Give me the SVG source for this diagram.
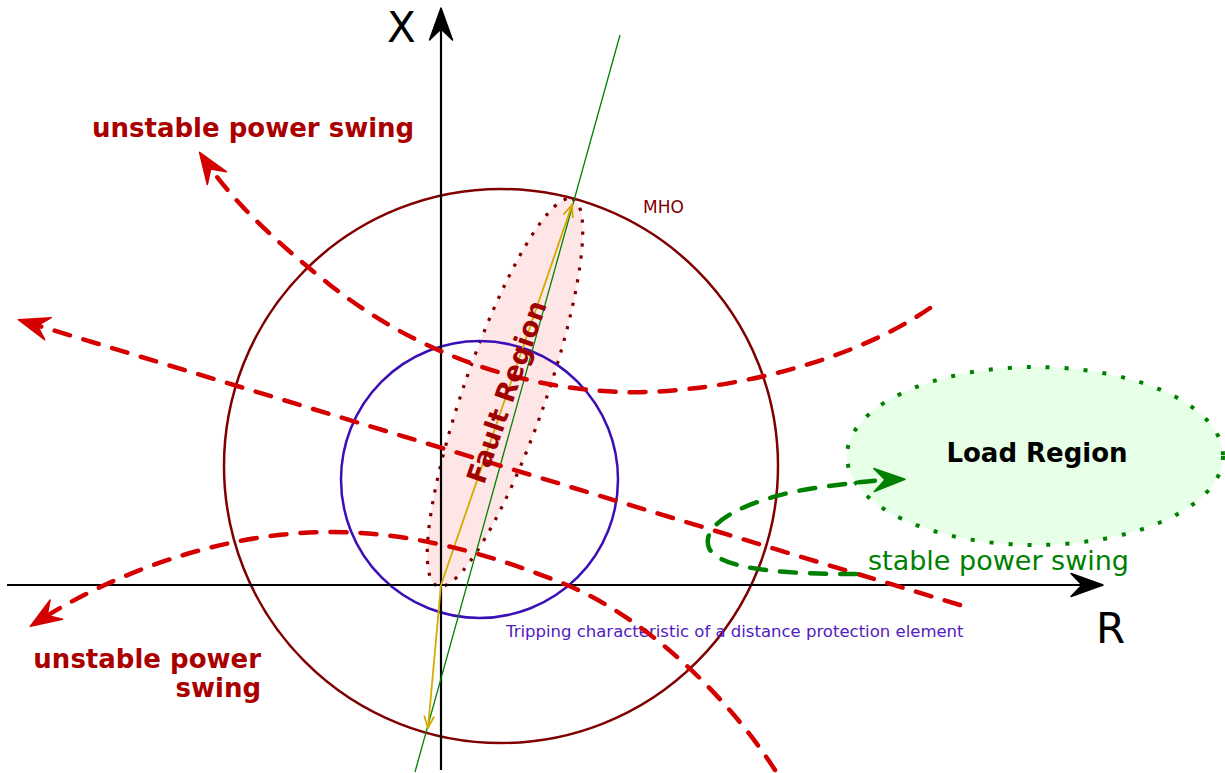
<svg xmlns="http://www.w3.org/2000/svg" width="1225" height="773" viewBox="0 0 1225 773">
<style>
text{font-family:"DejaVu Sans","Liberation Sans",sans-serif}
.bold{font-weight:bold}
.swing{fill:none;stroke:#d40000;stroke-width:4.5;stroke-dasharray:16 14;stroke-linecap:round}
.gswing{fill:none;stroke:#008000;stroke-width:4.5;stroke-dasharray:16 14;stroke-linecap:round}
.axis{fill:none;stroke:#000;stroke-width:2.2}
.ul{fill:#aa0000;font-size:26px;font-weight:bold}
</style>
<defs>
<marker id="arrRed" markerUnits="userSpaceOnUse" orient="auto" overflow="visible" markerWidth="1" markerHeight="1">
<path d="M8,0 L-23,-11.5 L-12,0 L-23,11.5 Z" fill="#d40000" stroke="#d40000" stroke-width="1.5" stroke-linejoin="round"/>
</marker>
<marker id="arrGreen" markerUnits="userSpaceOnUse" orient="auto" overflow="visible" markerWidth="1" markerHeight="1">
<path d="M8,0 L-23,-11.5 L-12,0 L-23,11.5 Z" fill="#008000" stroke="#008000" stroke-width="1.5" stroke-linejoin="round"/>
</marker>
<marker id="arrBlack" markerUnits="userSpaceOnUse" orient="auto" overflow="visible" markerWidth="1" markerHeight="1">
<path d="M8,0 L-24,-11.5 L-13,0 L-24,11.5 Z" fill="#000" stroke="#000" stroke-width="1.5" stroke-linejoin="round"/>
</marker>
<marker id="arrOrange" markerUnits="userSpaceOnUse" orient="auto" overflow="visible" markerWidth="1" markerHeight="1">
<path d="M-12,-5 L0,0 L-12,5" fill="none" stroke="#d4aa00" stroke-width="1.8"/>
</marker>
</defs>
<rect width="1225" height="773" fill="#fff"/>

<g id="load-region">
<ellipse cx="1035" cy="456" rx="188" ry="89" fill="#e6ffe6" stroke="#008000" stroke-width="4" stroke-dasharray="4 15"/>
<text x="1037" y="462" class="bold" font-size="26" text-anchor="middle" fill="#000">Load Region</text>
</g>

<g id="fault-region">
<ellipse cx="505" cy="392.5" rx="205" ry="41" transform="rotate(-70.8 505 392.5)" fill="#ffe6e6" stroke="#800000" stroke-width="3.2" stroke-dasharray="3.2 8.8"/>
</g>

<g id="mho">
<circle cx="501" cy="466" r="277" fill="none" stroke="#800000" stroke-width="2.5"/>
<text x="643" y="213" font-size="17" fill="#800000">MHO</text>
</g>

<g id="tripping-characteristic">
<circle cx="479.5" cy="479.5" r="138.5" fill="none" stroke="#3c0fb4" stroke-width="2.5"/>
<text x="506" y="637" font-size="16.5" fill="#5020c0">Tripping characteristic of a distance protection element</text>
</g>

<g id="axes">
<path class="axis" d="M441,770 L441,16" marker-end="url(#arrBlack)"/>
<path class="axis" d="M7,585 L1095,585" marker-end="url(#arrBlack)"/>
<text x="387" y="42" font-size="42" fill="#000">X</text>
<text x="1096" y="643" font-size="42" fill="#000">R</text>
</g>

<g id="impedance-line">
<line x1="620" y1="35" x2="415" y2="772" stroke="#008000" stroke-width="1.3"/>
<path d="M441,585 L572,205" fill="none" stroke="#d4aa00" stroke-width="1.8" marker-end="url(#arrOrange)"/>
<path d="M441,585 L428,728" fill="none" stroke="#d4aa00" stroke-width="1.8" marker-end="url(#arrOrange)"/>
</g>

<g id="connectors">
<path class="swing" d="M960,605 L26,322" marker-end="url(#arrRed)"/>
<path class="swing" d="M930,308 C840,370 700,395 620,392 C520,388 420,355 330,285 C280,245 235,205 204,159" marker-end="url(#arrRed)"/>
<path class="swing" d="M775,770 C730,700 650,620 567,585 C500,558 420,532 330,532 C220,532 110,575 37,622" marker-end="url(#arrRed)"/>
<path class="gswing" d="M856,574 C800,574 720,572 709,548 C698,520 760,496 815,488 C850,483 875,480 897,479.5" marker-end="url(#arrGreen)"/>
</g>

<g id="fault-label">
<text transform="translate(507 392) rotate(-70.8)" x="0" y="9" class="bold" font-size="27" text-anchor="middle" fill="#a00000">Fault Region</text>
</g>

<g id="labels">
<text x="92" y="137" class="ul">unstable power swing</text>
<text x="261" y="668" class="ul" text-anchor="end">unstable power</text>
<text x="261" y="697" class="ul" text-anchor="end">swing</text>
<text x="868" y="570" font-size="27" fill="#008000">stable power swing</text>
</g>
</svg>
